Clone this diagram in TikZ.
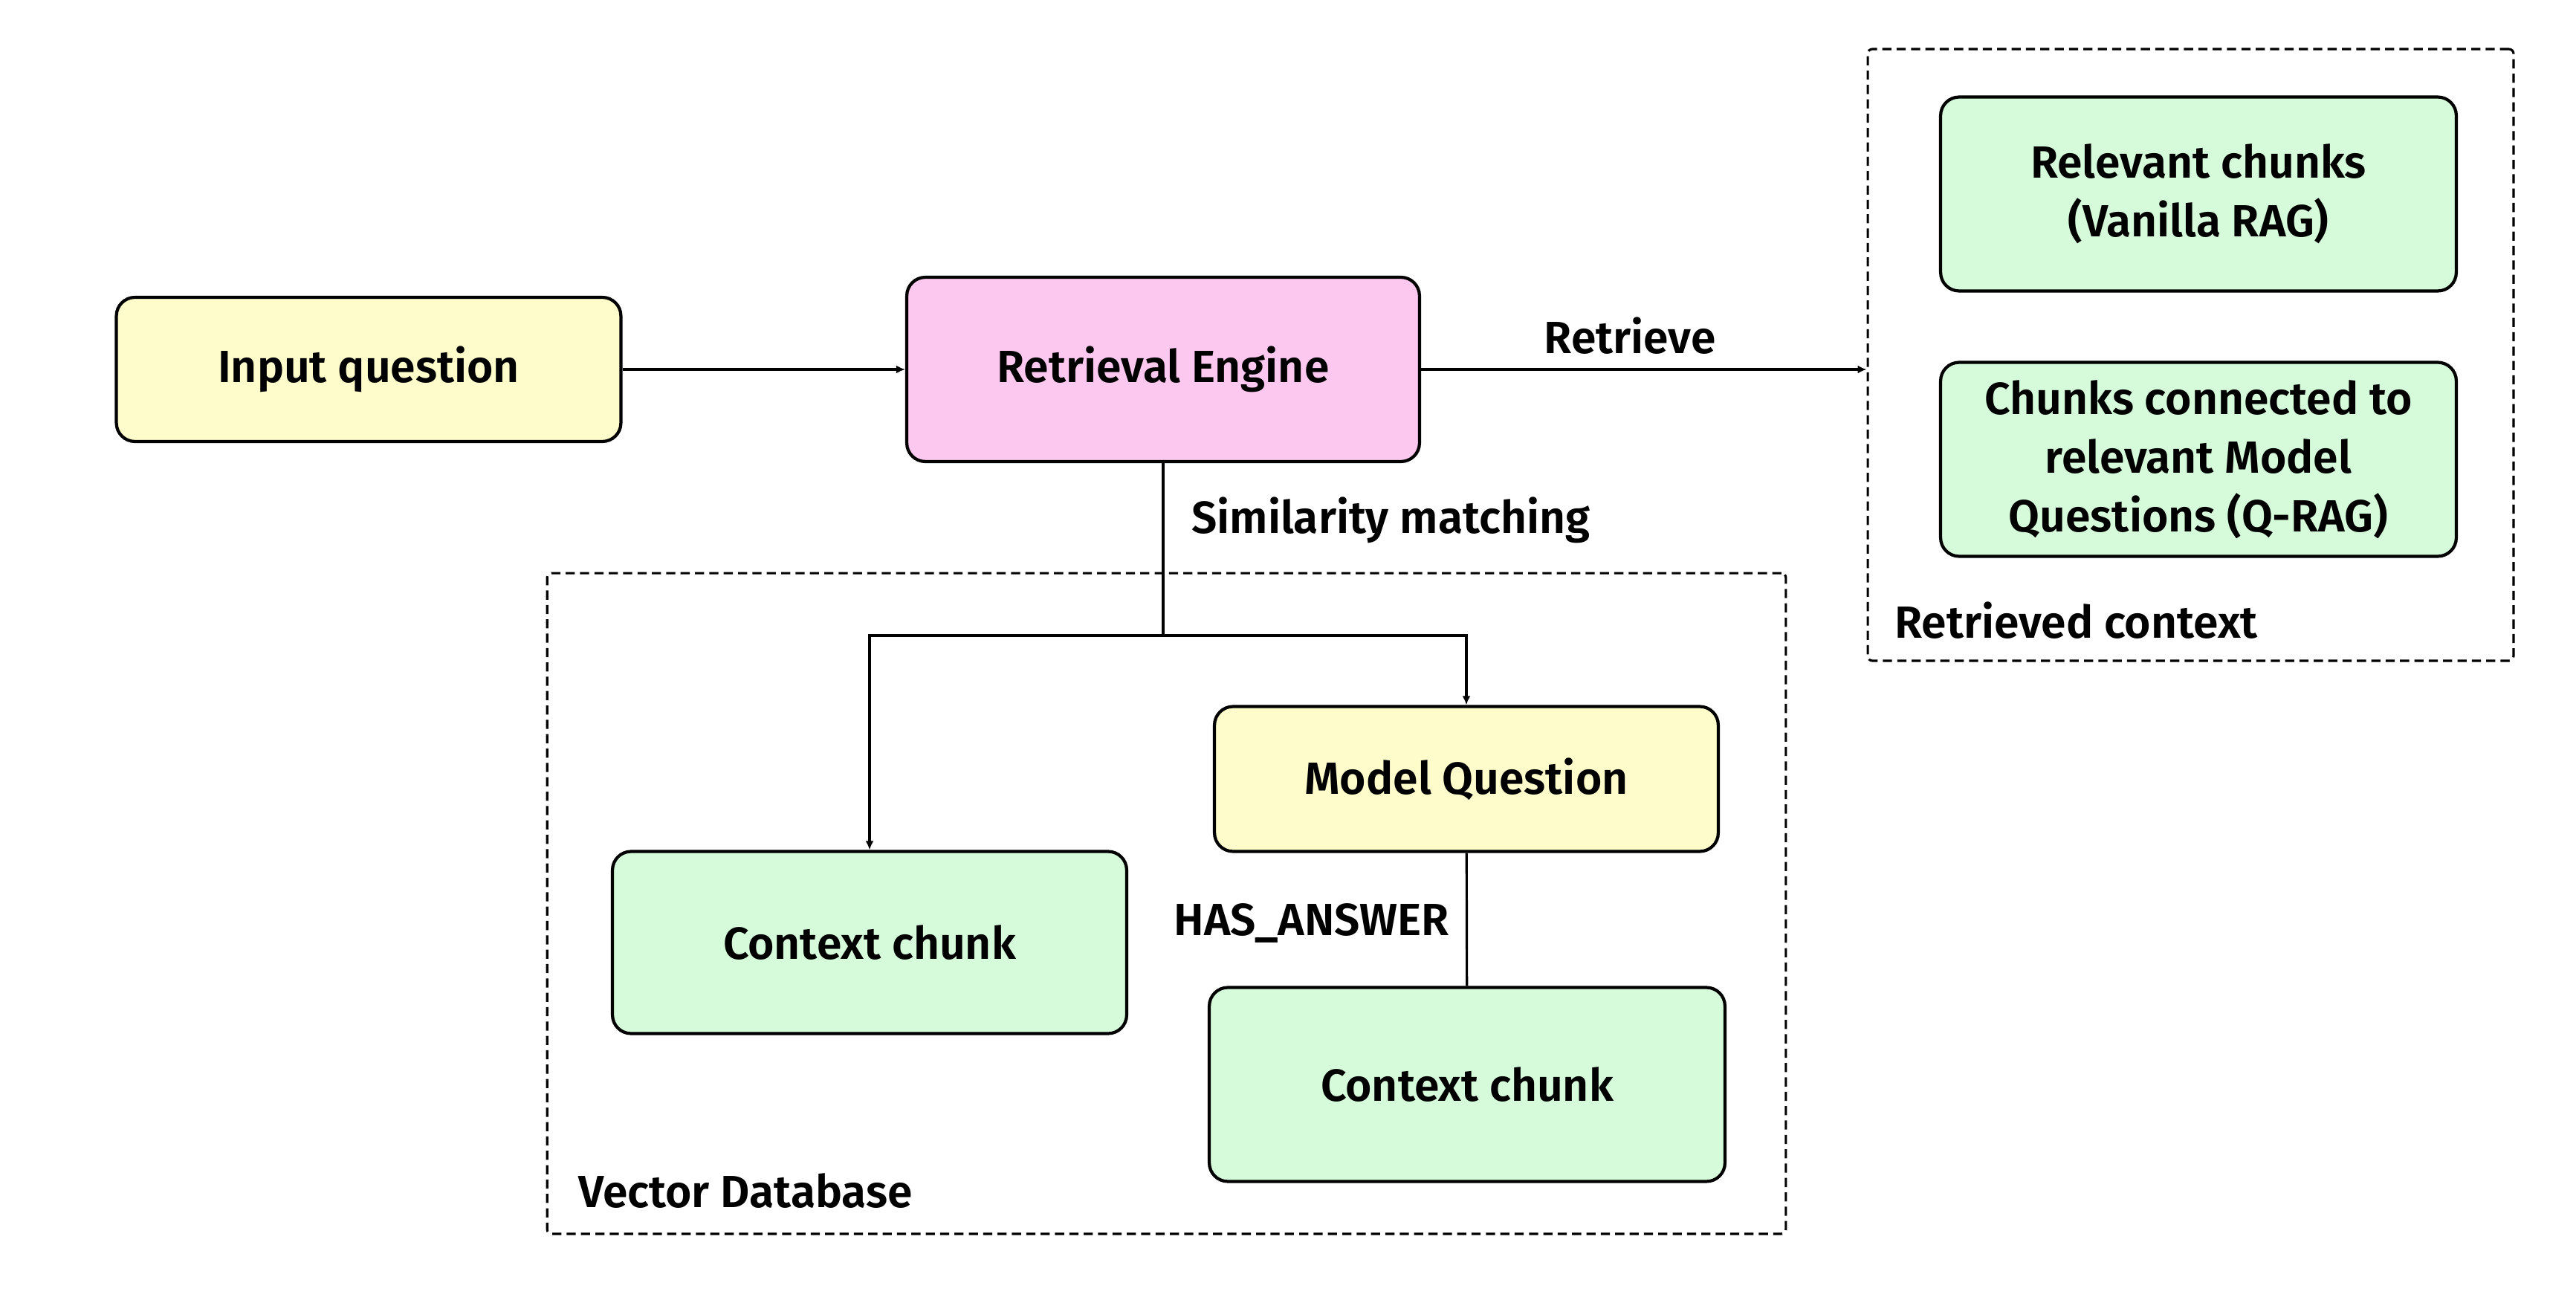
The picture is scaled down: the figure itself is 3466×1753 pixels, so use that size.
\documentclass[tikz,border=0pt]{standalone}
\usepackage{fontspec}
\setmainfont{Fira Sans}[BoldFont={Fira Sans SemiBold}]
\usepackage{xcolor}
\usetikzlibrary{arrows.meta}

\definecolor{qyellow}{HTML}{FEFCCB}
\definecolor{enginepink}{HTML}{FDC8EF}
\definecolor{chunkgreen}{HTML}{D5FBDA}

\begin{document}
\begin{tikzpicture}[x=0.02cm,y=-0.02cm,
    box/.style={draw,rounded corners=0.5cm,line width=2.4pt,align=center,
        font=\fontsize{34.5}{45}\selectfont\bfseries},
    groupbox/.style={draw,rounded corners=0.12cm,line width=1.8pt,dash pattern=on 7pt off 4pt},
    lbl/.style={font=\fontsize{34.5}{42}\selectfont\bfseries,inner sep=0pt},
    arr/.style={line width=1.8pt,-{Latex[length=0.24cm,width=0.22cm]}},
    conn/.style={line width=1.8pt}]

    \useasboundingbox (0,0) rectangle (3466,1753);

    % dashed groups
    \node [groupbox, minimum width=17.38cm, minimum height=16.46cm] at (2947.5,477.5) (ctx) {};
    \node [groupbox, minimum width=33.34cm, minimum height=17.78cm] at (1569.5,1215.5) (vdb) {};

    % boxes
    \node [box, fill=qyellow, minimum width=13.58cm, minimum height=3.88cm] at (496,497) (input) {Input question};
    \node [box, fill=enginepink, minimum width=13.8cm, minimum height=4.96cm] at (1565,497) (engine) {Retrieval Engine};
    \node [box, fill=chunkgreen, minimum width=13.88cm, minimum height=5.22cm] at (2958,261) (relchunks) {Relevant chunks\\ (Vanilla RAG)};
    \node [box, fill=chunkgreen, minimum width=13.88cm, minimum height=5.22cm] at (2958,618) (qchunks) {Chunks connected to\\relevant Model\\Questions (Q-RAG)};
    \node [box, fill=chunkgreen, minimum width=13.84cm, minimum height=4.9cm] at (1170,1268) (chunk1) {Context chunk};
    \node [box, fill=qyellow, minimum width=13.56cm, minimum height=3.9cm] at (1973,1048) (modelq) {Model Question};
    \node [box, fill=chunkgreen, minimum width=13.88cm, minimum height=5.22cm] at (1974,1459) (chunk2) {Context chunk};

    % labels
    \node [lbl] at (2193,452) (retrievelbl) {Retrieve};
    \node [lbl, anchor=west] at (1603,700) (simlbl) {Similarity matching};
    \node [lbl, anchor=east] at (1950,1242) (answerlbl) {HAS\_ANSWER};
    \node [lbl, anchor=west] at (2549,835) (ctxlbl) {Retrieved context};
    \node [lbl, anchor=west] at (778,1602) (vdblbl) {Vector Database};

    % connectors
    \coordinate (split) at (1565,855);
    \draw [arr] (input) -- (engine);
    \draw [arr] (engine.east) -- (engine.east -| ctx.west);
    \draw [conn] (engine.south) -- (split);
    \draw [arr] (split) -| (chunk1.north);
    \draw [arr] (split) -| (modelq.north);
    \draw [conn] (modelq) -- (chunk2);

\end{tikzpicture}
\end{document}
